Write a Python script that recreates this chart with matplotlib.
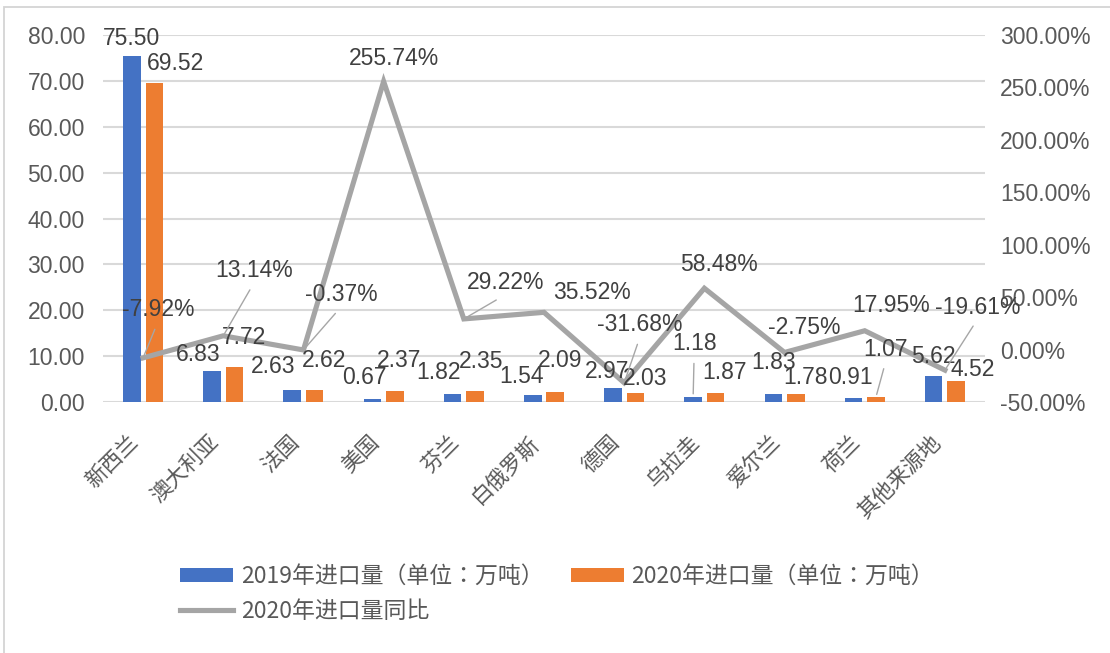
import matplotlib
matplotlib.use("Agg")
import matplotlib.pyplot as plt
from matplotlib.patches import Rectangle
import numpy as np

plt.rcParams['font.family'] = ['Liberation Sans', 'Noto Sans CJK SC', 'DejaVu Sans']

# ---------------- data ----------------
categories = ['新西兰', '澳大利亚', '法国', '美国', '芬兰', '白俄罗斯', '德国',
              '乌拉圭', '爱尔兰', '荷兰', '其他来源地']
imports_2019 = [75.50, 6.83, 2.63, 0.67, 1.82, 1.54, 2.97, 1.18, 1.83, 0.91, 5.62]
imports_2020 = [69.52, 7.72, 2.62, 2.37, 2.35, 2.09, 2.03, 1.87, 1.78, 1.07, 4.52]
yoy_2020 = [-7.92, 13.14, -0.37, 255.74, 29.22, 35.52, -31.68, 58.48, -2.75, 17.95, -19.61]

series_names = ['2019年进口量（单位：万吨）', '2020年进口量（单位：万吨）', '2020年进口量同比']
left_ticks = [0, 10, 20, 30, 40, 50, 60, 70, 80]
right_ticks = [-50, 0, 50, 100, 150, 200, 250, 300]

# ---------------- label layout (pixel offsets, leader flag) ----------------
lab19_off = [(0, 17, False), (-14, 16, False), (-19, 23, False), (-8, 21, False),
             (-14, 21, False), (-11, 18, False), (-6, 17, False), (1, 53, True),
             (0, 31, False), (-3, 20, False), (0, 20, False)]
lab20_off = [(21, 20, False), (10, 29, False), (9, 29, False), (4, 31, False),
             (6, 30, False), (5, 32, False), (10, 14, False), (9, 21, False),
             (10, 16, False), (10, 48, True), (17, 12, False)]
labline_off = [(15, 48, True), (31, 65, True), (38, 55, True), (10, 23, False),
               (42, 36, True), (48, 20, False), (16, 58, True), (15, 24, False),
               (20, 25, False), (26, 25, False), (33, 63, True)]

# ---------------- style ----------------
C19 = '#4472C4'
C20 = '#ED7D31'
CLINE = '#A5A5A5'
GRID = '#D9D9D9'
TICKC = '#595959'
LABC = '#404040'
FS = 16.5

W, H = 1110, 653
fig = plt.figure(figsize=(W / 100, H / 100), dpi=100)
ax = fig.add_axes([103 / W, 1 - 402 / H, (985 - 103) / W, (402 - 35) / H])
ax2 = ax.twinx()

x = np.arange(len(categories))
bw = 0.218
off = 0.14
b19 = ax.bar(x - off, imports_2019, bw, color=C19, zorder=2, label=series_names[0])
b20 = ax.bar(x + off, imports_2020, bw, color=C20, zorder=2, label=series_names[1])
ln, = ax2.plot(x, yoy_2020, color=CLINE, lw=3.7, solid_joinstyle='miter', zorder=3,
               label=series_names[2])

ax.set_xlim(-0.5, len(categories) - 0.5)
ax.set_ylim(0, 80)
ax2.set_ylim(-50, 300)
ax.set_yticks(left_ticks)
ax.set_yticklabels([f'{v:.2f}' for v in left_ticks])
ax2.set_yticks(right_ticks)
ax2.set_yticklabels([f'{v:.2f}%' for v in right_ticks])
ax.grid(axis='y', color=GRID, lw=1.5, zorder=0)
ax.set_axisbelow(True)

for a in (ax, ax2):
    for s in ['top', 'left', 'right', 'bottom']:
        a.spines[s].set_visible(False)
    a.tick_params(length=0, labelsize=FS, labelcolor=TICKC)
ax.axhline(0, color=GRID, lw=1.8, zorder=1)
ax.tick_params(axis='y', pad=13)
ax2.tick_params(axis='y', pad=11)

ax.set_xticks(x)
ax.set_xticklabels(categories, rotation=45, ha='right', va='top',
                   family=['Noto Sans CJK SC'], fontsize=15.5, color=TICKC)
ax.tick_params(axis='x', pad=21)

# ---------------- data labels ----------------
def put_label(xv, yv, text, trans, dx, dy, leader):
    kw = dict(xy=(xv, yv), xycoords=trans, xytext=(dx, dy), textcoords='offset pixels',
              ha='center', va='center', fontsize=FS, color=LABC, zorder=5,
              annotation_clip=False)
    if leader:
        kw['arrowprops'] = dict(arrowstyle='-', color='#A6A6A6', lw=1.0,
                                relpos=(0.5, 0.0), shrinkA=4, shrinkB=2)
    ax2.annotate(text, **kw)

for i in range(len(categories)):
    dx, dy, ld = lab19_off[i]
    put_label(x[i] - off, imports_2019[i], f'{imports_2019[i]:.2f}', ax.transData, dx, dy, ld)
    dx, dy, ld = lab20_off[i]
    put_label(x[i] + off, imports_2020[i], f'{imports_2020[i]:.2f}', ax.transData, dx, dy, ld)
    dx, dy, ld = labline_off[i]
    put_label(x[i], yoy_2020[i], f'{yoy_2020[i]:.2f}%', ax2.transData, dx, dy, ld)

# ---------------- legend ----------------
leg = fig.legend([b19, ln, b20], [series_names[0], series_names[2], series_names[1]],
                 ncol=2, frameon=False, loc='upper left',
                 bbox_to_anchor=(180 / W, 1 - 565 / H),
                 prop={'family': ['Noto Sans CJK TC'], 'size': 16.5},
                 handlelength=2.3, handleheight=0.6, handletextpad=0.35,
                 columnspacing=1.2, labelspacing=0.52, borderpad=0, borderaxespad=0)
for t in leg.get_texts():
    t.set_color(TICKC)
for h in leg.legend_handles:
    if hasattr(h, 'set_linewidth') and not isinstance(h, Rectangle):
        h.set_linewidth(3.7)

# ---------------- outer frame ----------------
fig.patches.append(Rectangle((4 / W, -0.1), 1.2, 1 - 7 / H + 0.1,
                             transform=fig.transFigure, fill=False,
                             ec='#D4D4D4', lw=1.3))

fig.savefig('out.png', dpi=100)
